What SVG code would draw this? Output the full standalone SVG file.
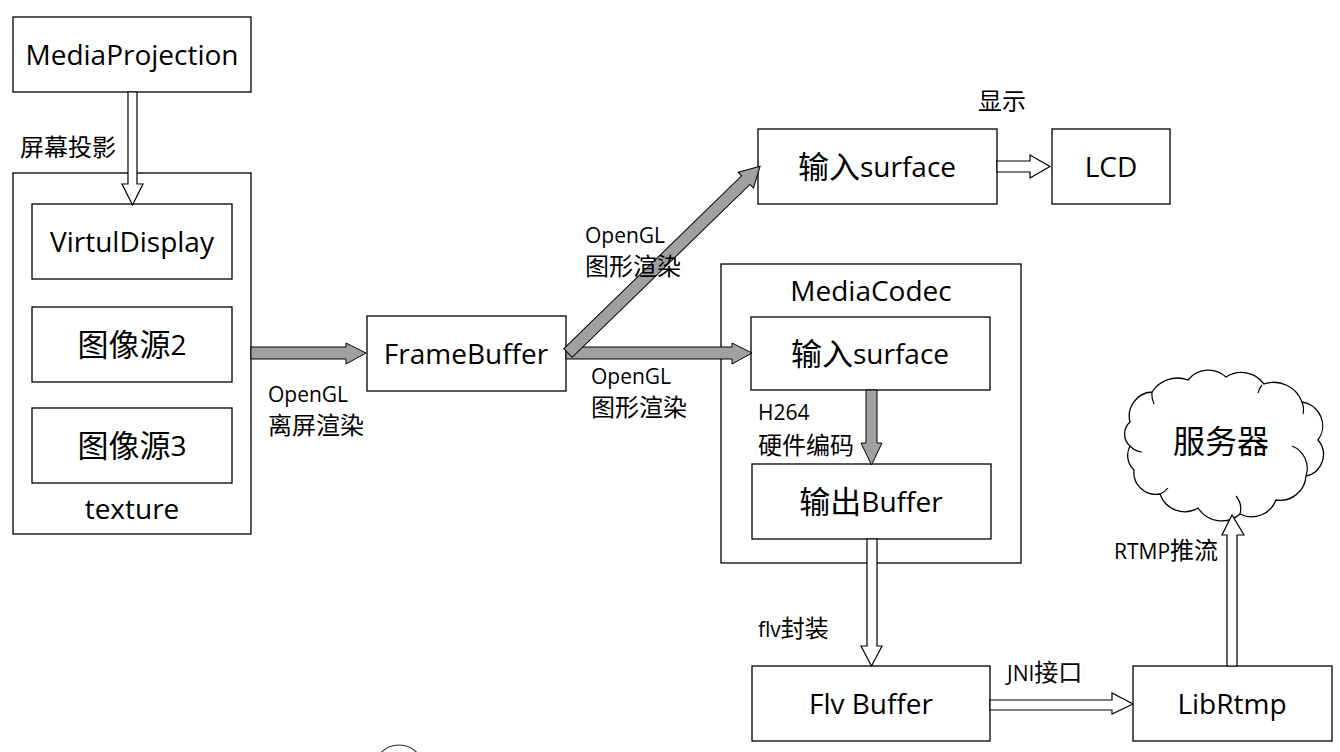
<svg xmlns="http://www.w3.org/2000/svg" width="1340" height="752" viewBox="0 0 1340 752">
<style>
.box{fill:#fff;stroke:#000;stroke-width:1.3}
.t{font-family:"Open Sans","Noto Sans CJK SC",sans-serif;font-size:28px;fill:#000;text-anchor:middle;dominant-baseline:central}
.t .c{font-size:31px}
.l{font-family:"Open Sans","Noto Sans CJK SC",sans-serif;font-size:21px;fill:#000}
.l .c{font-size:24px}
.ga{fill:#a0a0a0;stroke:#000;stroke-width:1}
.ha{fill:#fff;stroke:#000;stroke-width:1.2}
</style>
<rect width="1340" height="752" fill="#fff"/>
<g id="mediaprojection"><rect class="box" x="13" y="17" width="238" height="75"/><text class="t" x="132" y="54">MediaProjection</text></g>
<g id="texture"><rect class="box" x="13" y="173" width="238" height="361"/><text class="t" x="132" y="508">texture</text></g>
<g id="virtualdisplay"><rect class="box" x="32" y="204" width="200" height="75"/><text class="t" x="132" y="241">VirtulDisplay</text></g>
<g id="src2"><rect class="box" x="32" y="307" width="200" height="75"/><text class="t" x="132" y="344"><tspan class="c">图像源</tspan>2</text></g>
<g id="src3"><rect class="box" x="32" y="408" width="200" height="75"/><text class="t" x="132" y="445"><tspan class="c">图像源</tspan>3</text></g>
<g id="framebuffer"><rect class="box" x="367" y="316" width="199" height="75"/><text class="t" x="466" y="353">FrameBuffer</text></g>
<g id="surface-top"><rect class="box" x="758" y="129" width="239" height="75"/><text class="t" x="877" y="166"><tspan class="c">输入</tspan>surface</text></g>
<g id="lcd"><rect class="box" x="1052" y="129" width="118" height="75"/><text class="t" x="1111" y="166">LCD</text></g>
<g id="mediacodec"><rect class="box" x="721" y="264" width="300" height="299"/><text class="t" x="871" y="290">MediaCodec</text></g>
<g id="surface-codec"><rect class="box" x="751" y="317" width="239" height="73"/><text class="t" x="870" y="353"><tspan class="c">输入</tspan>surface</text></g>
<g id="outbuffer"><rect class="box" x="752" y="464" width="239" height="75"/><text class="t" x="871" y="501"><tspan class="c">输出</tspan>Buffer</text></g>
<g id="flvbuffer"><rect class="box" x="752" y="666" width="238" height="75"/><text class="t" x="871" y="703">Flv Buffer</text></g>
<g id="librtmp"><rect class="box" x="1133" y="666" width="199" height="75"/><text class="t" x="1232" y="703">LibRtmp</text></g>
<g id="server">
<path class="box" d="M1130,422 A24,24 0 0 1 1152,392 A30,30 0 0 1 1188,380 A26,26 0 0 1 1226,377 A28,28 0 0 1 1264,384 A30,30 0 0 1 1302,402 A24,24 0 0 1 1318,440 A22,22 0 0 1 1306,476 A26,26 0 0 1 1276,500 A26,26 0 0 1 1240,514 A28,28 0 0 1 1198,508 A26,26 0 0 1 1160,494 A22,22 0 0 1 1134,470 A20,20 0 0 1 1130,446 A16,16 0 0 1 1130,422 Z"/>
<path fill="none" stroke="#000" stroke-width="1.2" d="M1152,392 A22,22 0 0 0 1154,404 M1262,385 A18,18 0 0 0 1258,393 M1302,402 A20,20 0 0 1 1303,414 M1306,476 A24,24 0 0 0 1292,446 M1240,514 A20,20 0 0 0 1236,496 M1160,494 A18,18 0 0 0 1168,488 M1130,446 A18,18 0 0 0 1142,452"/>
<text class="t" x="1221" y="440" style="font-size:32px">服务器</text>
</g>
<g id="stray"><circle cx="399" cy="770" r="25" fill="none" stroke="#333" stroke-width="1.2"/></g>
<g id="connectors">
<polygon class="ha" points="128,92 137,92 137,184 143,184 132.5,205 122,184 128,184"/>
<polygon class="ga" points="251,347 346,347 346,343 366,353 346,364 346,359 251,359"/>
<polygon class="ga" points="566,347 732,347 732,343 752,353 732,364 732,359 566,359"/>
<g transform="translate(568,353) rotate(-44.2)"><polygon class="ga" points="0,-6 248,-6 248,-11 268,0 248,11 248,6 0,6"/></g>
<polygon class="ha" points="997,161 1030,161 1030,155 1050,166.5 1030,178 1030,172 997,172"/>
<polygon class="ga" points="866,390 877,390 877,443 882,443 871.5,465 861,443 866,443"/>
<polygon class="ha" points="867,539 877,539 877,646 882,646 871.5,666 861,646 867,646"/>
<polygon class="ha" points="990,700 1112,700 1112,693 1133,704 1112,714 1112,710 990,710"/>
<polygon class="ha" points="1227,666 1237,666 1237,535 1244,535 1232,515 1222,535 1227,535"/>
</g>
<g id="labels">
<text class="l" x="20" y="156"><tspan class="c">屏幕投影</tspan></text>
<text class="l" x="268" y="402">OpenGL</text>
<text class="l" x="268" y="434"><tspan class="c">离屏渲染</tspan></text>
<text class="l" x="591" y="384">OpenGL</text>
<text class="l" x="591" y="416"><tspan class="c">图形渲染</tspan></text>
<text class="l" x="585" y="243">OpenGL</text>
<text class="l" x="585" y="275"><tspan class="c">图形渲染</tspan></text>
<text class="l" x="978" y="110"><tspan class="c">显示</tspan></text>
<text class="l" x="758" y="420">H264</text>
<text class="l" x="758" y="454"><tspan class="c">硬件编码</tspan></text>
<text class="l" x="758" y="637">flv<tspan class="c">封装</tspan></text>
<text class="l" x="1007" y="681">JNI<tspan class="c">接口</tspan></text>
<text class="l" x="1114" y="559">RTMP<tspan class="c">推流</tspan></text>
</g>
</svg>
